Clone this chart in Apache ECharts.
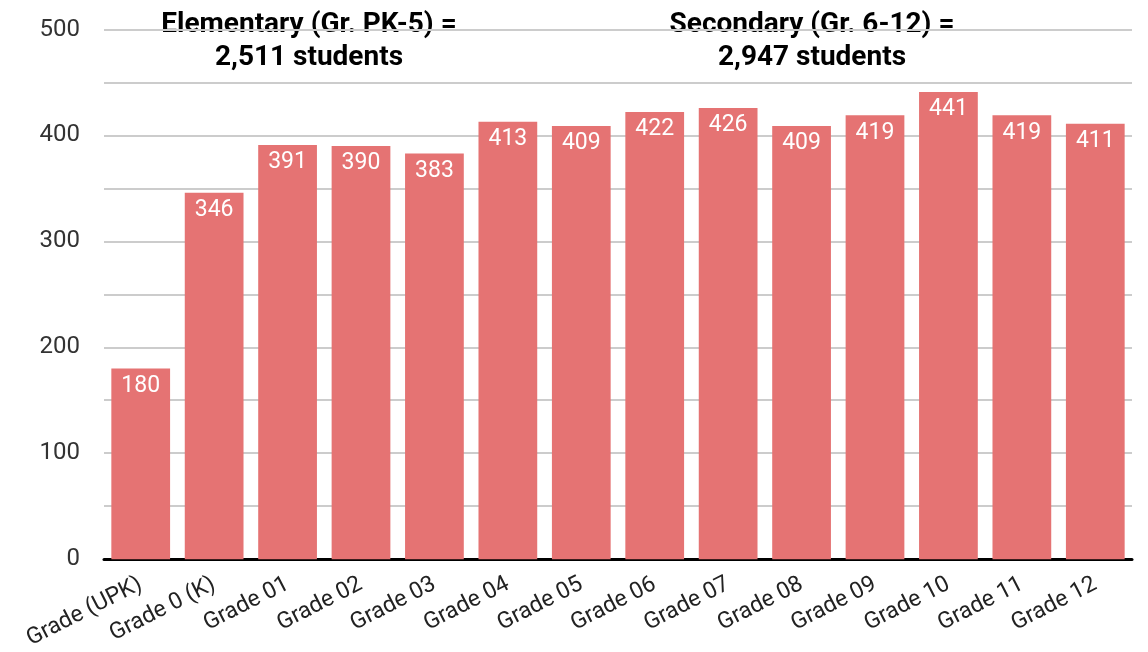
<!DOCTYPE html>
<html><head><meta charset="utf-8">
<script src="https://cdn.jsdelivr.net/npm/echarts@6/dist/echarts.min.js"></script>
<style>html,body{margin:0;padding:0;background:#fff}#c{width:1148px;height:652px}</style>
</head><body><div id="c"></div>
<script>
const categories = ['Grade (UPK)','Grade 0 (K)','Grade 01','Grade 02','Grade 03','Grade 04','Grade 05','Grade 06','Grade 07','Grade 08','Grade 09','Grade 10','Grade 11','Grade 12'];
const students = [180,346,391,390,383,413,409,422,426,409,419,441,419,411];
const annotations = ['Elementary (Gr. PK-5) =\n2,511 students','Secondary (Gr. 6-12) =\n2,947 students'];

const chart = echarts.init(document.getElementById('c'));
chart.setOption({
  animation:false,
  textStyle:{fontFamily:'Roboto'},
  grid:{left:104,right:16,top:29.5,bottom:92.5},
  xAxis:{type:'category',data:categories,
    axisLine:{lineStyle:{color:'#000',width:3}},
    axisTick:{show:false},
    axisLabel:{rotate:27,interval:0,fontSize:23,color:'#222',fontFamily:'Roboto',margin:24}},
  yAxis:{type:'value',min:0,max:500,interval:50,
    axisLine:{show:false},axisTick:{show:false},
    splitLine:{lineStyle:{color:'#cccccc',width:2}},
    axisLabel:{fontSize:24,color:'#333',fontFamily:'Roboto',margin:24,
      formatter:v=>v%100===0?String(v):''}},
  series:[{type:'bar',data:students,barCategoryGap:'20%',
    itemStyle:{color:'#e57373'},
    label:{show:true,position:'insideTop',distance:6,color:'#fff',fontSize:23,fontFamily:'Roboto'}}],
  graphic:[
    {type:'text',x:309,y:8,style:{text:annotations[0],fill:'#000',font:'bold 28px Roboto',textAlign:'center',lineHeight:33}},
    {type:'text',x:812,y:8,style:{text:annotations[1],fill:'#000',font:'bold 28px Roboto',textAlign:'center',lineHeight:33}}
  ]
});
</script></body></html>
